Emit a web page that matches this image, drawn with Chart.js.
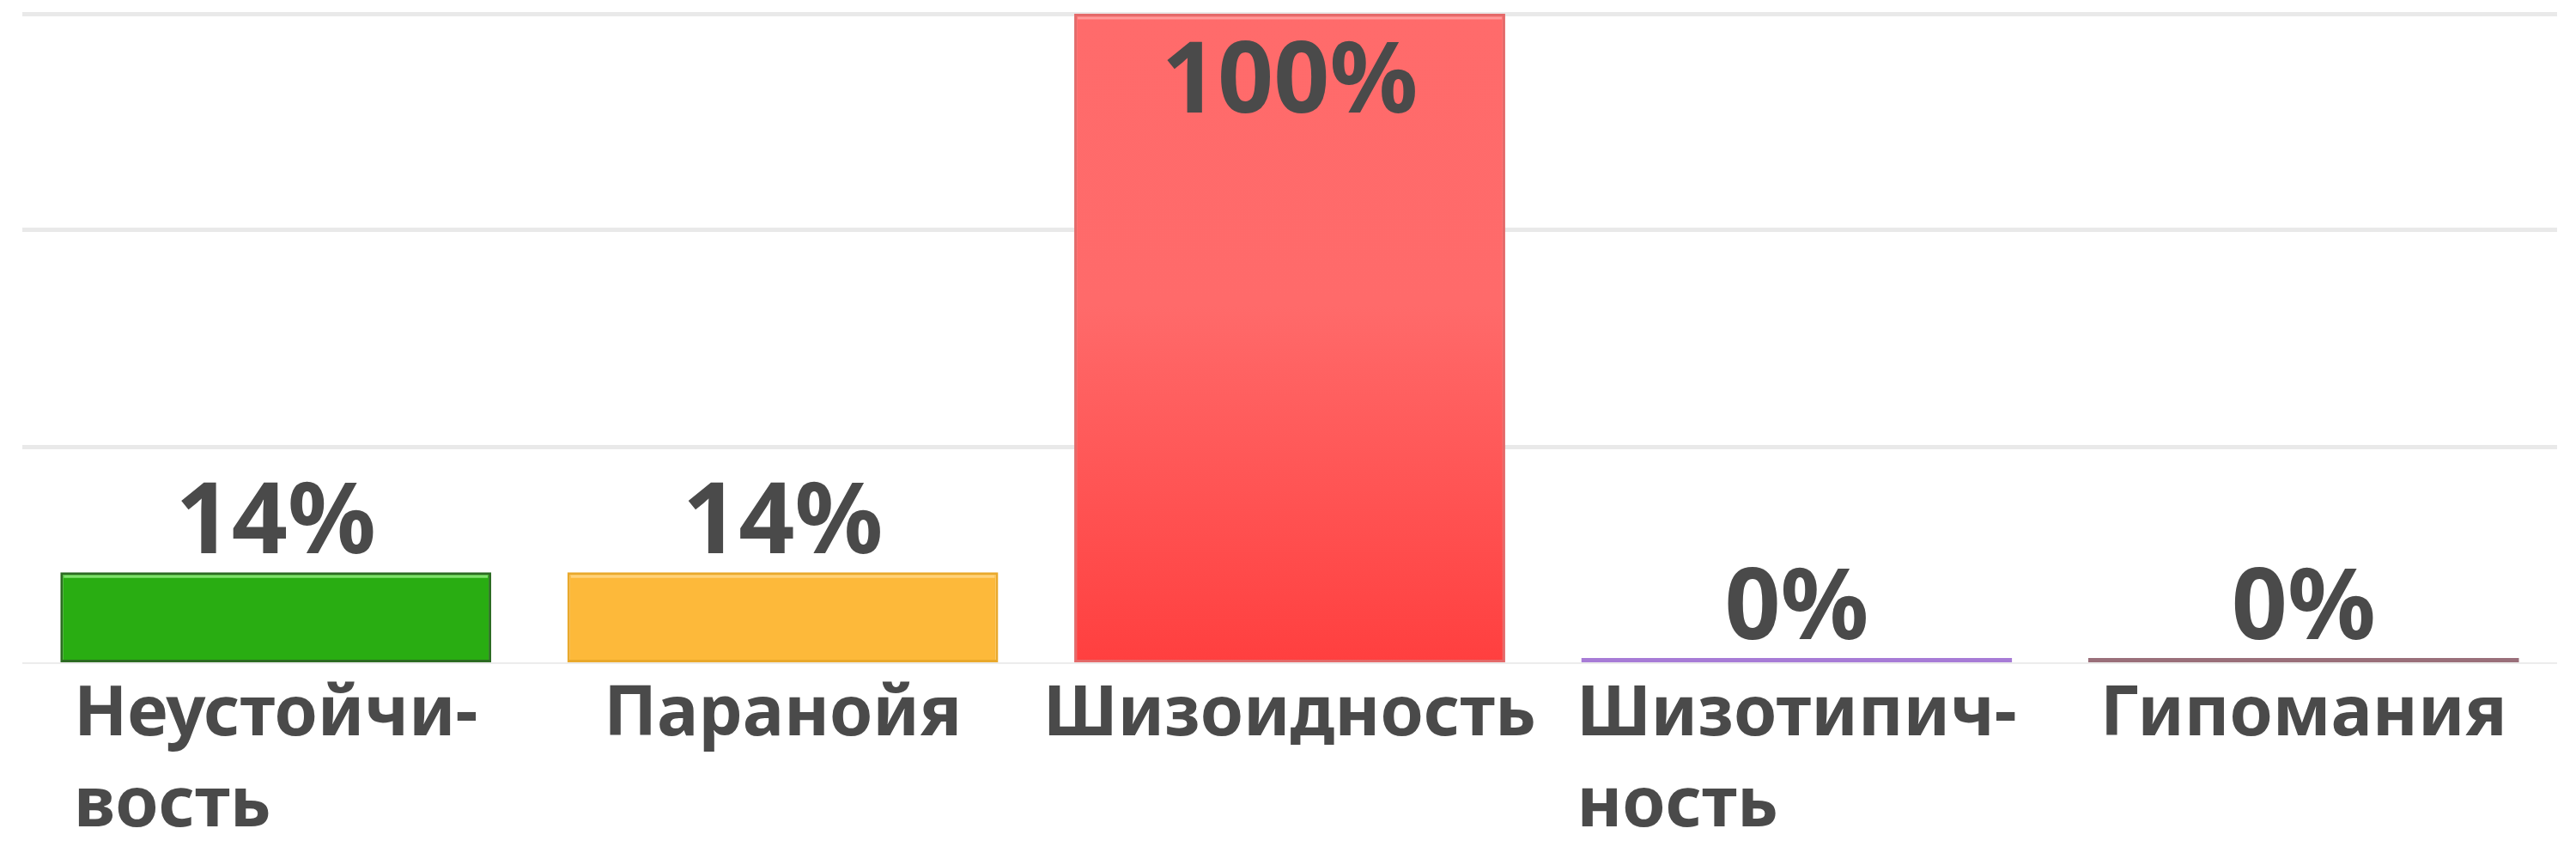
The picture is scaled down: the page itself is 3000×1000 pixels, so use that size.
<!DOCTYPE html>
<html>
<head>
<meta charset="utf-8">
<script src="https://cdn.jsdelivr.net/npm/chart.js@4/dist/chart.umd.min.js"></script>
<style>
  html, body { margin: 0; padding: 0; background: #fff; }
  #wrap { width: 3000px; height: 1000px; }
</style>
</head>
<body>
<div id="wrap"><canvas id="barChart"></canvas></div>
<script>
// -- Data --
const categories = [
  ['Неустойчи-', 'вость'],
  'Паранойя',
  'Шизоидность',
  ['Шизотипич-', 'ность'],
  'Гипомания'
]
const percents = [14, 14, 100, 0, 0]
const yTicks = [0, 100 / 3, 200 / 3, 100]

// -- Styles --
const fillColors = ['#29ad12', '#fdb93a', 'gradient', '#c9a6f0', '#c79aa6']
const edgeColors = ['#2c6b22', '#e9a92c', '#e46a6a', '#a77bd6', '#9a6f7a']
const shineColors = ['#7fe06c', '#ffd27a', '#ff9a9a', null, null]
const textColor = '#4a4a4a'
const fontFamily = '"Noto Sans", "Open Sans", sans-serif'
const tickFont = { family: fontFamily, size: 81, weight: 'bold', lineHeight: 1.31 }

let barFill = function(context) {
  let i = context.dataIndex
  if (fillColors[i] !== 'gradient') return fillColors[i]
  let area = context.chart.chartArea
  if (!area) return '#ff5a5a'
  let g = context.chart.ctx.createLinearGradient(0, area.top, 0, area.bottom)
  g.addColorStop(0, '#ff6b6b')
  g.addColorStop(0.45, '#ff6a6a')
  g.addColorStop(1, '#ff3f3f')
  return g
}

// multi-line tick labels: lines left aligned, block centred under the bar
const centreTickBlocks = {
  id: 'centreTickBlocks',
  beforeDraw(chart) {
    let scale = chart.scales.x
    let items = scale.getLabelItems()
    let c = chart.ctx
    c.save()
    c.font = 'bold ' + tickFont.size + 'px ' + fontFamily
    items.forEach(item => {
      if (item._centred) return
      let lines = Array.isArray(item.label) ? item.label : [item.label]
      let w = Math.max(...lines.map(l => c.measureText(l).width))
      item.options.translation[0] -= w / 2
      item._centred = true
    })
    c.restore()
  }
}

// value labels above bars (inside when there is no room)
const valueLabels = {
  id: 'valueLabels',
  afterDatasetsDraw(chart) {
    let ctx = chart.ctx
    let meta = chart.getDatasetMeta(0)
    let area = chart.chartArea
    ctx.save()
    meta.data.forEach((bar, i) => {
      let w = bar.width
      if (shineColors[i]) {
        ctx.strokeStyle = shineColors[i]
        ctx.lineWidth = 3
        ctx.beginPath()
        ctx.moveTo(bar.x - w / 2 + 4, bar.y + 5)
        ctx.lineTo(bar.x + w / 2 - 4, bar.y + 5)
        ctx.stroke()
      }
      ctx.font = 'bold 114px ' + fontFamily
      ctx.fillStyle = textColor
      ctx.textAlign = 'center'
      ctx.textBaseline = 'alphabetic'
      let y = bar.y - 22
      if (y - 85 < area.top) y = bar.y + 115
      ctx.fillText(percents[i] + '%', bar.x, y)
    })
    ctx.restore()
  }
}

let ctx = document.getElementById('barChart')
let chart = new Chart(ctx, {
  type: 'bar',
  data: {
    labels: categories,
    datasets: [{
      data: percents,
      backgroundColor: barFill,
      borderColor: edgeColors,
      borderWidth: 3,
      borderSkipped: false,
      minBarLength: 6,
      barPercentage: 0.85,
      categoryPercentage: 1
    }]
  },
  plugins: [centreTickBlocks, valueLabels],
  options: {
    responsive: true,
    maintainAspectRatio: false,
    animation: false,
    events: [],
    layout: {
      padding: { left: 26, right: 22, top: 16, bottom: 0 }
    },
    plugins: {
      legend: { display: false },
      tooltip: { enabled: false }
    },
    scales: {
      x: {
        grid: { display: false },
        border: { display: false },
        afterFit: function(scale) {
          scale.height = 228
          scale.paddingLeft = 0
          scale.paddingRight = 0
        },
        ticks: {
          color: textColor,
          font: tickFont,
          padding: 0,
          align: 'start',
          maxRotation: 0,
          autoSkip: false
        }
      },
      y: {
        min: 0,
        max: 100,
        afterBuildTicks: function(scale) { scale.ticks = yTicks.map(v => ({ value: v })) },
        afterFit: function(scale) { scale.width = 0 },
        border: { display: false },
        ticks: { display: false },
        grid: {
          drawTicks: false,
          color: function(c) { return c.tick.value === 0 ? '#ececec' : '#e9e9e9' },
          lineWidth: function(c) { return c.tick.value === 0 ? 2 : 5 }
        }
      }
    }
  }
})
</script>
</body>
</html>
